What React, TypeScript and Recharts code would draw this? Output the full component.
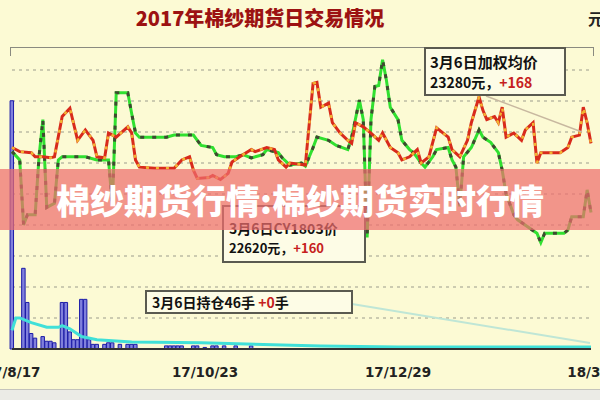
import React from 'react';
import { ComposedChart, Line, Bar, XAxis, YAxis, CartesianGrid } from 'recharts';

// x axis: trading-day index, labelled dates
const xTickIdx = [0, 50, 100, 150];
const xTickLabels = ['17/8/17', '17/10/23', '17/12/29', '18/3/6'];
const priceTicks = [21600, 21900, 22200, 22500, 22800, 23100, 23400, 23700, 24000];

// 加权均价 (weighted average price)
const avgIdx = [0, 2, 5, 6, 8, 10, 11, 13, 15, 17, 19, 21, 22, 24, 25, 27, 30, 31, 32, 33, 37, 42, 44, 46, 47, 48, 51, 52, 54, 56, 57, 59, 62, 63, 66, 68, 69, 71, 72, 76, 78, 79, 80, 82, 83, 85, 87, 88, 89, 91, 93, 95, 96, 98, 100, 101, 103, 105, 106, 108, 110, 113, 114, 116, 118, 119, 121, 122, 123, 125, 126, 127, 128, 129, 130, 132, 133, 135, 136, 137, 142, 144, 145, 147, 148, 149, 150];
const avgPrice = [23250, 23210, 23200, 23160, 23160, 23150, 23160, 23550, 23630, 23320, 23420, 23320, 23160, 23150, 23390, 23350, 23450, 23390, 23130, 23060, 23050, 23050, 23130, 23160, 23030, 22950, 22960, 22980, 22940, 23000, 23110, 23160, 23230, 23210, 23250, 23230, 23130, 23060, 23100, 23080, 23870, 23880, 23640, 23680, 23490, 23390, 23320, 23290, 23490, 23450, 23390, 23320, 23390, 23250, 23200, 23130, 23160, 23230, 23100, 23160, 23440, 23350, 23230, 23160, 23320, 23490, 23740, 23610, 23520, 23550, 23490, 23640, 23350, 23370, 23390, 23320, 23420, 23490, 23100, 23200, 23200, 23250, 23350, 23370, 23640, 23490, 23290];

// CY1803 price
const cyIdx = [0, 2, 3, 4, 6, 7, 8, 9, 11, 12, 13, 19, 22, 25, 26, 27, 30, 31, 32, 33, 40, 42, 47, 48, 49, 52, 53, 55, 58, 60, 62, 65, 66, 69, 70, 72, 75, 76, 78, 79, 82, 84, 87, 88, 90, 91, 92, 93, 94, 95, 96, 97, 98, 100, 101, 103, 104, 106, 107, 109, 110, 113, 114, 115, 116, 117, 119, 121, 122, 124, 126, 127, 128, 129, 130, 131, 136, 137, 138, 143, 144, 145, 148, 149, 150];
const cyPrice = [23210, 23130, 22500, 22600, 22600, 23160, 23520, 22670, 22710, 23130, 23160, 23160, 23130, 23130, 22690, 23780, 23780, 23580, 23390, 23350, 23350, 23370, 23370, 23320, 23270, 23250, 23180, 23160, 23160, 23180, 23150, 23180, 23230, 23200, 23150, 23080, 23100, 23070, 23250, 23350, 23320, 23270, 23230, 23350, 23710, 23520, 22380, 23520, 23840, 23850, 24100, 23900, 23640, 23520, 23320, 23230, 23200, 23100, 23060, 23160, 23230, 23250, 23130, 23060, 22680, 23160, 23250, 23420, 23350, 23300, 23200, 23030, 22800, 22700, 22600, 22550, 22420, 22330, 22420, 22420, 22450, 22580, 22580, 22840, 22620];

// 成交量 (volume)
const volIdx = [0, 3, 4, 5, 6, 8, 9, 10, 11, 13, 14, 15, 16, 17, 18, 19, 20, 21, 22, 24, 25, 26, 28, 30, 31, 32, 40, 41, 42, 43, 44, 47, 48, 50, 52, 53, 55, 58, 62];
const volVal = [160, 52, 30, 10, 7, 8, 5, 5, 4, 30, 30, 11, 6, 6, 32, 32, 6, 3, 3, 3, 4, 4, 3, 3, 3, 3, 2, 2, 2, 2, 2, 2, 2, 1, 2, 2, 2, 2, 2];

// 持仓 (open interest)
const oiIdx = [0, 1, 2, 5, 9, 12, 13, 15, 18, 22, 31, 49, 70, 80, 100, 150];
const oiVal = [12, 20, 20, 17, 14, 14, 15, 13, 8, 6, 4.5, 4, 2.6, 2, 1.3, 1.3];

const priceDomain: [number, number] = [21300, 24213];

function buildRows() {
  const rows: any[] = [];
  for (let i = 0; i <= 150; i++) rows.push({ i });
  avgIdx.forEach((d, k) => (rows[d].a = avgPrice[k]));
  cyIdx.forEach((d, k) => (rows[d].b = cyPrice[k]));
  volIdx.forEach((d, k) => (rows[d].vol = volVal[k]));
  oiIdx.forEach((d, k) => (rows[d].oi = oiVal[k]));
  return rows;
}

const gridGen = (props: any) => {
  const off = props.offset || {};
  const top = off.top ?? 48;
  const h = off.height ?? 301;
  const [lo, hi] = priceDomain;
  return priceTicks.map((t) => top + ((hi - t) / (hi - lo)) * h);
};

const boxStyle: React.CSSProperties = {
  position: 'absolute',
  background: '#fdfce6',
  border: '2px solid #5a5a50',
  boxSizing: 'border-box',
  color: '#111',
  fontWeight: 700,
  fontFamily: '"Noto Sans CJK SC", sans-serif',
  whiteSpace: 'nowrap',
};

export default function App() {
  const rows = buildRows();
  return (
    <div style={{ position: 'relative', width: 600, height: 400, background: '#fcfad4', overflow: 'hidden', fontFamily: '"Noto Sans CJK SC", sans-serif' }}>
      <style>{`body{margin:0}`}</style>
      <div style={{ position: 'absolute', left: 0, top: 0 }}>
        <ComposedChart width={600} height={400} data={rows} margin={{ top: 48, right: 9, bottom: 21, left: 12 }}>
          <CartesianGrid yAxisId="p" vertical={false} stroke="#9c9c8c" strokeDasharray="3 4" horizontalCoordinatesGenerator={gridGen} />
          <XAxis
            type="number"
            dataKey="i"
            domain={[0, 150]}
            ticks={xTickIdx}
            interval={0}
            tickFormatter={(v: number) => xTickLabels[xTickIdx.indexOf(v)] ?? ''}
            axisLine={{ stroke: '#333', strokeWidth: 2 }}
            tickLine={false}
            tickMargin={12}
            height={30}
            tick={{ fontSize: 13.5, fontWeight: 700, fill: '#222', fontFamily: '"DejaVu Sans", sans-serif' }}
          />
          <YAxis yAxisId="p" domain={priceDomain} ticks={priceTicks} width={0} axisLine={{ stroke: '#666', strokeWidth: 2 }} tickLine={{ stroke: '#333' }} tickSize={3} mirror tick={false} />
          <YAxis yAxisId="p2" orientation="right" domain={priceDomain} ticks={priceTicks} width={0} axisLine={{ stroke: '#666', strokeWidth: 2 }} tickLine={{ stroke: '#333' }} tickSize={4} tick={false} />
          <YAxis yAxisId="v" orientation="right" domain={[0, 194]} hide />
          <Bar yAxisId="v" dataKey="vol" barSize={4} fill="#8080dc" stroke="#1c1ca8" strokeWidth={1} isAnimationActive={false} />
          <Line yAxisId="v" type="linear" dataKey="oi" stroke="#40e0d8" strokeWidth={3} dot={false} connectNulls isAnimationActive={false} />
          <Line yAxisId="p" type="linear" dataKey="b" stroke="#30e030" strokeWidth={3} dot={false} connectNulls isAnimationActive={false} />
          <Line yAxisId="p" type="linear" dataKey="b" stroke="#3e4a30" strokeWidth={3} strokeDasharray="4 8" dot={false} connectNulls isAnimationActive={false} />
          <Line yAxisId="p" type="linear" dataKey="a" stroke="#d82a1c" strokeWidth={3} dot={false} connectNulls isAnimationActive={false} />
          <Line yAxisId="p" type="linear" dataKey="a" stroke="#f2b432" strokeWidth={2.5} strokeDasharray="3 7" dot={false} connectNulls isAnimationActive={false} />
        </ComposedChart>
      </div>

      {/* top frame */}
      <div style={{ position: 'absolute', left: 10, top: 47, width: 582, height: 8, borderTop: '1px solid #8a8a80', borderLeft: '1px solid #8a8a80', borderRight: '1px solid #8a8a80' }} />

      {/* leader lines */}
      <svg width={600} height={400} style={{ position: 'absolute', left: 0, top: 0, pointerEvents: 'none' }}>
        <line x1={486} y1={96} x2={582} y2={132} stroke="#c8b8a0" strokeWidth={1.5} />
        <line x1={352} y1={304} x2={590} y2={343} stroke="#bfe6d6" strokeWidth={2} />
      </svg>

      {/* annotation boxes */}
      <div style={{ ...boxStyle, left: 424, top: 47, width: 142, height: 49, padding: '3px 0 0 4px' }}>
        <div style={{ fontSize: 15, lineHeight: '20px' }}>3月6日加权均价</div>
        <div style={{ fontSize: 14, lineHeight: '20px' }}>
          23280元，<span style={{ color: '#c62020' }}>+168</span>
        </div>
      </div>
      <div style={{ ...boxStyle, left: 222, top: 205, width: 144, height: 58, padding: '11px 0 0 5px' }}>
        <div style={{ fontSize: 14, lineHeight: '20px' }}>3月6日CY1803价</div>
        <div style={{ fontSize: 13, lineHeight: '20px' }}>
          22620元，<span style={{ color: '#c62020' }}>+160</span>
        </div>
      </div>
      <div style={{ ...boxStyle, left: 145, top: 290, width: 208, height: 24, padding: '0 0 0 5px' }}>
        <div style={{ fontSize: 14, lineHeight: '20px' }}>
          3月6日持仓46手 <span style={{ color: '#c62020' }}>+0</span>手
        </div>
      </div>

      {/* title */}
      <div style={{ position: 'absolute', left: 0, width: 520, top: 6, textAlign: 'center', color: '#9c1212', fontSize: 20, fontWeight: 900, fontFamily: '"Noto Sans CJK SC", sans-serif', lineHeight: '24px' }}>
        2017年棉纱期货日交易情况
      </div>
      <div style={{ position: 'absolute', left: 588, top: 7, color: '#222', fontSize: 16, fontWeight: 700, lineHeight: '22px' }}>元</div>

      {/* bottom strip */}
      <div style={{ position: 'absolute', left: 0, top: 389, width: 600, height: 11, background: '#ebebe6', borderTop: '1px solid #c4c4bc' }} />

      {/* banner */}
      <div style={{ position: 'absolute', left: 0, top: 169, width: 600, height: 61, background: 'rgba(238,110,110,0.72)', color: '#fff', textAlign: 'center', fontSize: 34, fontWeight: 900, lineHeight: '61px', fontFamily: '"Noto Sans CJK SC", sans-serif' }}>
        棉纱期货行情:棉纱期货实时行情
      </div>
    </div>
  );
}
